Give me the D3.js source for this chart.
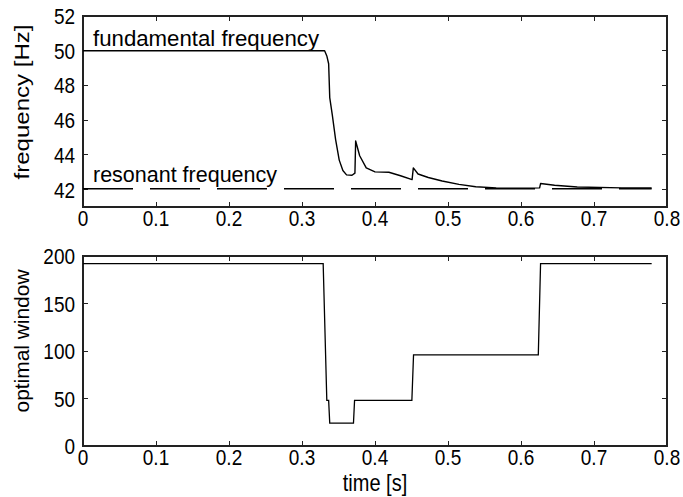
<!DOCTYPE html>
<html>
<head>
<meta charset="utf-8">
<script src="https://cdn.jsdelivr.net/npm/d3@7"></script>
<style>
  body { margin: 0; background: #fff; }
  svg { display: block; font-family: "Liberation Sans", Arial, Helvetica, sans-serif; }
</style>
</head>
<body>
<svg></svg>
<script>
// fundamental frequency estimate [Hz]
const fundTime = [0, 0.331, 0.334, 0.3365, 0.338, 0.3415, 0.346, 0.351, 0.356, 0.361, 0.3685,
  0.3725, 0.3735, 0.379, 0.388, 0.400, 0.419, 0.435, 0.4508, 0.4525, 0.459, 0.473, 0.492,
  0.515, 0.538, 0.566, 0.595, 0.6255, 0.6268, 0.646, 0.677, 0.738, 0.779];
const fundFreq = [50, 50, 49.7, 49.25, 47.3, 46.3, 44.9, 43.7, 43.1, 42.85, 42.83,
  42.95, 44.8, 43.95, 43.25, 43.02, 43.0, 42.8, 42.58, 43.25, 42.9, 42.7, 42.5,
  42.3, 42.17, 42.1, 42.08, 42.1, 42.35, 42.25, 42.15, 42.1, 42.1];

// resonant frequency (dashed)
const resTime = [0, 0.779];
const resFreq = [42.05, 42.05];

// optimal window length
const winTime = [0, 0.329, 0.334, 0.3365, 0.338, 0.3705, 0.372, 0.4505, 0.4528, 0.6237, 0.6268, 0.779];
const winSize = [192, 192, 48, 48, 24, 24, 48, 48, 96, 96, 192, 192];

const xTicks = [0, 0.1, 0.2, 0.3, 0.4, 0.5, 0.6, 0.7, 0.8];
const freqTicks = [42, 44, 46, 48, 50, 52];
const winTicks = [0, 50, 100, 150, 200];

const W = 683, H = 497;
const svg = d3.select("svg").attr("width", W).attr("height", H);

const left = 83, right = 667;
const x = d3.scaleLinear().domain([0, 0.8]).range([left, right]);
const stretch = 1.17; // glyphs in the picture are a bit taller than wide

function panel(top, bottom, yDomain, yTicks, yLabel, yLabelY, yLabelLen) {
  const y = d3.scaleLinear().domain(yDomain).range([bottom, top]);
  const g = svg.append("g");

  const tickLen = 5;
  // ticks, inward on all four sides
  g.selectAll(".xt").data(xTicks).enter().append("path")
    .attr("d", d => `M${x(d)},${bottom}v${-tickLen}M${x(d)},${top}v${tickLen}`)
    .attr("stroke", "#222").attr("stroke-width", 1).attr("shape-rendering", "crispEdges");
  g.selectAll(".yt").data(yTicks).enter().append("path")
    .attr("d", d => `M${left},${y(d)}h${tickLen}M${right},${y(d)}h${-tickLen}`)
    .attr("stroke", "#222").attr("stroke-width", 1).attr("shape-rendering", "crispEdges");

  g.append("rect")
    .attr("x", left).attr("y", top)
    .attr("width", right - left).attr("height", bottom - top)
    .attr("fill", "none").attr("stroke", "#222").attr("stroke-width", 1.2)
    .attr("shape-rendering", "crispEdges");

  g.selectAll(".xl").data(xTicks).enter().append("text")
    .attr("transform", d => `translate(${x(d)},${bottom + 19}) scale(1,${stretch})`)
    .attr("text-anchor", "middle").attr("font-size", 19).attr("fill", "#000")
    .text(d => d3.format("~g")(d));
  g.selectAll(".yl").data(yTicks).enter().append("text")
    .attr("transform", d => `translate(${left - 8},${y(d) + 8}) scale(1,${stretch})`)
    .attr("text-anchor", "end").attr("font-size", 19).attr("fill", "#000")
    .text(d => d);

  g.append("text")
    .attr("transform", `translate(29,${yLabelY}) rotate(-90)`)
    .attr("text-anchor", "middle").attr("font-size", 20).attr("fill", "#000")
    .attr("textLength", yLabelLen).attr("lengthAdjust", "spacingAndGlyphs")
    .text(yLabel);

  return { g, y };
}

// top panel: frequency
const p1 = panel(16, 207, [41, 52], freqTicks, "frequency [Hz]", 102, 155);
const line1 = d3.line().x(d => x(d[0])).y(d => p1.y(d[1]));

p1.g.append("path")
  .attr("d", line1(d3.zip(resTime, resFreq)))
  .attr("fill", "none").attr("stroke", "#000").attr("stroke-width", 1.3)
  .attr("stroke-dasharray", "50,17");
p1.g.append("path")
  .attr("d", line1(d3.zip(fundTime, fundFreq)))
  .attr("fill", "none").attr("stroke", "#000").attr("stroke-width", 1.4)
  .attr("stroke-linejoin", "round");

p1.g.append("text").attr("transform", `translate(93,46) scale(1,1.05)`)
  .attr("font-size", 21).attr("fill", "#000")
  .attr("textLength", 226).attr("lengthAdjust", "spacingAndGlyphs")
  .text("fundamental frequency");
p1.g.append("text").attr("transform", `translate(93,182) scale(1,1.05)`)
  .attr("font-size", 21).attr("fill", "#000")
  .attr("textLength", 184).attr("lengthAdjust", "spacingAndGlyphs")
  .text("resonant frequency");

// bottom panel: window
const p2 = panel(256, 446, [0, 200], winTicks, "optimal window", 341, 143);
const line2 = d3.line().x(d => x(d[0])).y(d => p2.y(d[1]));
p2.g.append("path")
  .attr("d", line2(d3.zip(winTime, winSize)))
  .attr("fill", "none").attr("stroke", "#000").attr("stroke-width", 1.3);

svg.append("text")
  .attr("transform", `translate(${(left + right) / 2},491) scale(1,${stretch})`)
  .attr("text-anchor", "middle").attr("font-size", 20).attr("fill", "#000")
  .text("time [s]");
</script>
</body>
</html>
